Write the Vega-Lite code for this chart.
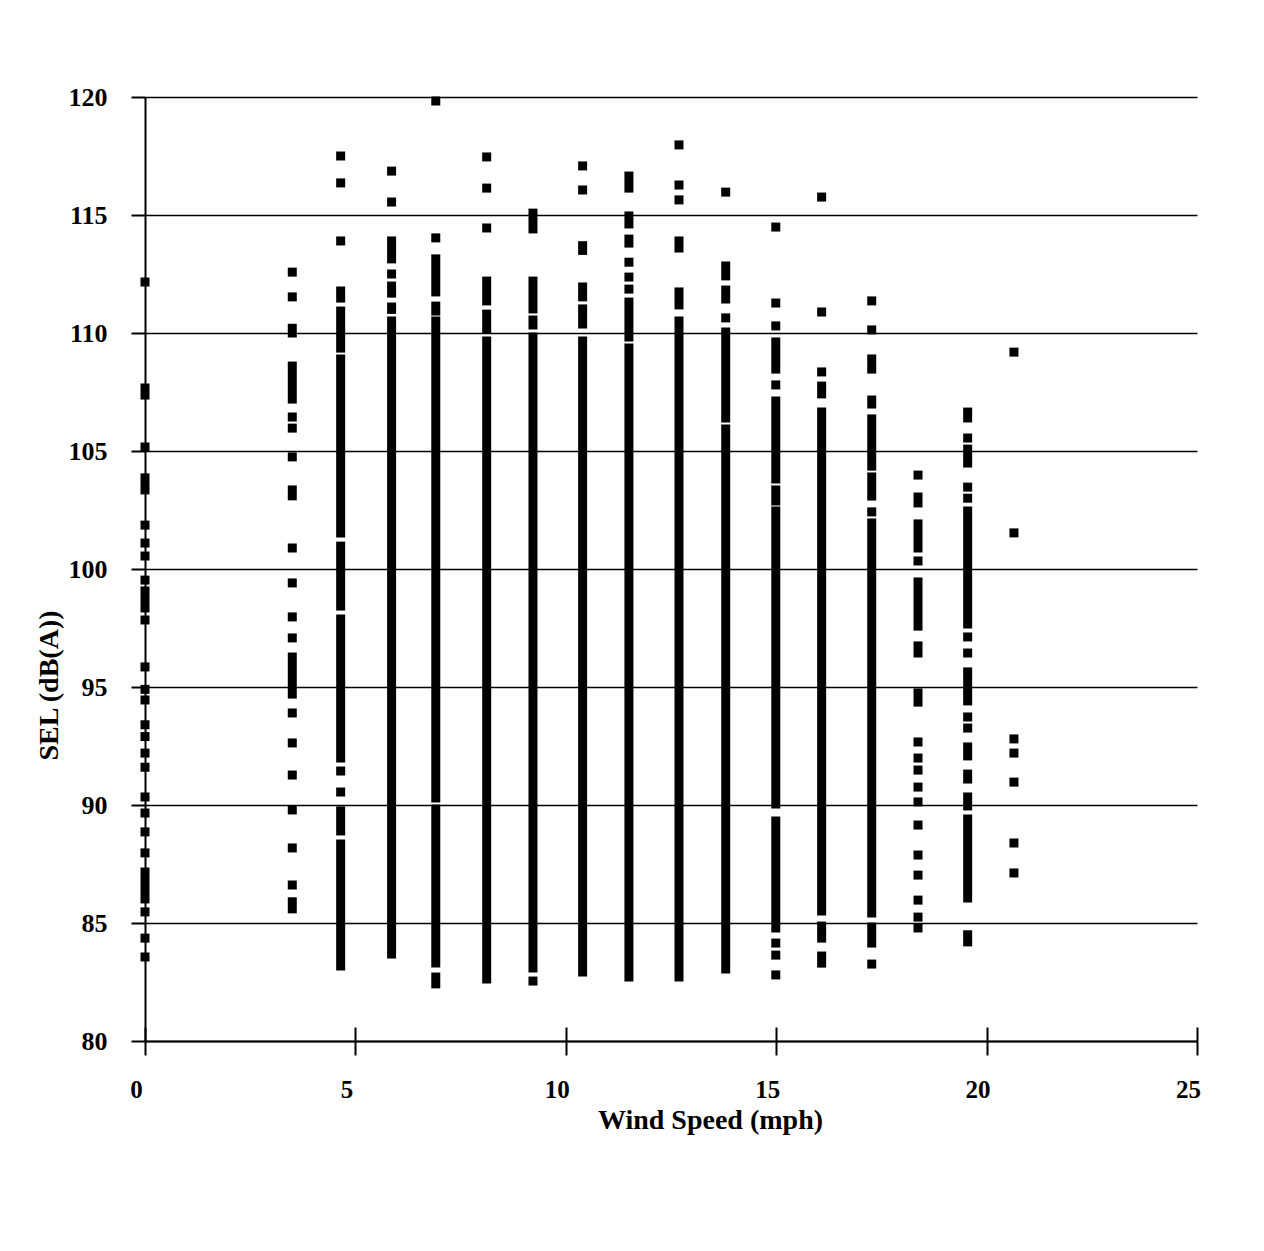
{
  "$schema": "https://vega.github.io/schema/vega-lite/v6.json",
  "width": 1052,
  "height": 944,
  "autosize": "none",
  "padding": {"left": 145, "top": 97, "right": 67, "bottom": 210},
  "background": "white",
  "config": {"view": {"stroke": null}, "font": "Liberation Serif"},
  "data": {"values": [
    {"w":0,"lo":112.16,"hi":112.16},{"w":0,"lo":107.37,"hi":107.67},{"w":0,"lo":105.17,"hi":105.17},{"w":0,"lo":103.35,"hi":103.86},{"w":0,"lo":101.86,"hi":101.86},{"w":0,"lo":101.1,"hi":101.1},{"w":0,"lo":100.55,"hi":100.55},{"w":0,"lo":99.53,"hi":99.53},{"w":0,"lo":98.35,"hi":99.07},{"w":0,"lo":97.84,"hi":97.84},{"w":0,"lo":95.85,"hi":95.85},{"w":0,"lo":94.9,"hi":94.9},{"w":0,"lo":94.45,"hi":94.45},{"w":0,"lo":93.4,"hi":93.4},{"w":0,"lo":92.9,"hi":92.9},{"w":0,"lo":92.2,"hi":92.2},{"w":0,"lo":91.6,"hi":91.6},{"w":0,"lo":90.34,"hi":90.34},{"w":0,"lo":89.66,"hi":89.66},{"w":0,"lo":88.86,"hi":88.86},{"w":0,"lo":87.97,"hi":87.97},{"w":0,"lo":86.02,"hi":87.16},{"w":0,"lo":85.47,"hi":85.47},{"w":0,"lo":84.36,"hi":84.36},{"w":0,"lo":83.56,"hi":83.56},
    {"w":3.5,"lo":112.58,"hi":112.58},{"w":3.5,"lo":111.53,"hi":111.53},{"w":3.5,"lo":110.0,"hi":110.2},{"w":3.5,"lo":107.2,"hi":108.6},{"w":3.5,"lo":106.44,"hi":106.44},{"w":3.5,"lo":105.97,"hi":105.97},{"w":3.5,"lo":104.75,"hi":104.75},{"w":3.5,"lo":103.1,"hi":103.35},{"w":3.5,"lo":100.89,"hi":100.89},{"w":3.5,"lo":99.41,"hi":99.41},{"w":3.5,"lo":97.97,"hi":97.97},{"w":3.5,"lo":97.08,"hi":97.08},{"w":3.5,"lo":94.7,"hi":96.27},{"w":3.5,"lo":93.9,"hi":93.9},{"w":3.5,"lo":92.63,"hi":92.63},{"w":3.5,"lo":91.27,"hi":91.27},{"w":3.5,"lo":89.79,"hi":89.79},{"w":3.5,"lo":88.18,"hi":88.18},{"w":3.5,"lo":86.61,"hi":86.61},{"w":3.5,"lo":85.6,"hi":85.9},
    {"w":4.65,"lo":117.5,"hi":117.5},{"w":4.65,"lo":116.36,"hi":116.36},{"w":4.65,"lo":113.9,"hi":113.9},{"w":4.65,"lo":111.48,"hi":111.78},{"w":4.65,"lo":109.36,"hi":110.93},{"w":4.65,"lo":101.53,"hi":108.9},{"w":4.65,"lo":98.43,"hi":100.97},{"w":4.65,"lo":91.99,"hi":97.88},{"w":4.65,"lo":91.44,"hi":91.44},{"w":4.65,"lo":90.55,"hi":90.55},{"w":4.65,"lo":88.9,"hi":89.75},{"w":4.65,"lo":83.18,"hi":88.35},
    {"w":5.86,"lo":116.86,"hi":116.86},{"w":5.86,"lo":115.55,"hi":115.55},{"w":5.86,"lo":113.14,"hi":113.9},{"w":5.86,"lo":112.5,"hi":112.5},{"w":5.86,"lo":111.69,"hi":111.99},{"w":5.86,"lo":111.0,"hi":111.1},{"w":5.86,"lo":83.69,"hi":110.51},
    {"w":6.91,"lo":119.83,"hi":119.83},{"w":6.91,"lo":114.03,"hi":114.03},{"w":6.91,"lo":111.74,"hi":113.14},{"w":6.91,"lo":110.93,"hi":111.14},{"w":6.91,"lo":90.3,"hi":110.51},{"w":6.91,"lo":83.31,"hi":89.83},{"w":6.91,"lo":82.42,"hi":82.71},
    {"w":8.12,"lo":117.46,"hi":117.46},{"w":8.12,"lo":116.14,"hi":116.14},{"w":8.12,"lo":114.45,"hi":114.45},{"w":8.12,"lo":111.36,"hi":112.2},{"w":8.12,"lo":110.17,"hi":110.8},{"w":8.12,"lo":82.63,"hi":109.66},
    {"w":9.22,"lo":114.41,"hi":115.08},{"w":9.22,"lo":111.02,"hi":112.2},{"w":9.22,"lo":110.34,"hi":110.55},{"w":9.22,"lo":83.09,"hi":109.83},{"w":9.22,"lo":82.54,"hi":82.54},
    {"w":10.4,"lo":117.08,"hi":117.08},{"w":10.4,"lo":116.06,"hi":116.06},{"w":10.4,"lo":113.5,"hi":113.7},{"w":10.4,"lo":111.53,"hi":111.95},{"w":10.4,"lo":110.38,"hi":111.02},{"w":10.4,"lo":82.92,"hi":109.66},
    {"w":11.5,"lo":116.14,"hi":116.65},{"w":11.5,"lo":114.62,"hi":114.96},{"w":11.5,"lo":113.81,"hi":113.98},{"w":11.5,"lo":113.0,"hi":113.0},{"w":11.5,"lo":112.37,"hi":112.37},{"w":11.5,"lo":111.86,"hi":111.86},{"w":11.5,"lo":109.83,"hi":111.31},{"w":11.5,"lo":82.71,"hi":109.36},
    {"w":12.69,"lo":117.97,"hi":117.97},{"w":12.69,"lo":116.27,"hi":116.27},{"w":12.69,"lo":115.64,"hi":115.64},{"w":12.69,"lo":113.6,"hi":113.9},{"w":12.69,"lo":111.19,"hi":111.74},{"w":12.69,"lo":82.71,"hi":110.51},
    {"w":13.8,"lo":115.97,"hi":115.97},{"w":13.8,"lo":112.42,"hi":112.84},{"w":13.8,"lo":111.44,"hi":111.82},{"w":13.8,"lo":110.64,"hi":110.64},{"w":13.8,"lo":106.4,"hi":110.04},{"w":13.8,"lo":83.05,"hi":105.93},
    {"w":14.99,"lo":114.49,"hi":114.49},{"w":14.99,"lo":111.27,"hi":111.27},{"w":14.99,"lo":110.3,"hi":110.3},{"w":14.99,"lo":108.47,"hi":109.62},{"w":14.99,"lo":107.8,"hi":107.8},{"w":14.99,"lo":103.81,"hi":107.12},{"w":14.99,"lo":102.88,"hi":103.35},{"w":14.99,"lo":90.04,"hi":102.46},{"w":14.99,"lo":84.79,"hi":89.32},{"w":14.99,"lo":84.15,"hi":84.15},{"w":14.99,"lo":83.64,"hi":83.64},{"w":14.99,"lo":82.8,"hi":82.8},
    {"w":16.08,"lo":115.76,"hi":115.76},{"w":16.08,"lo":110.89,"hi":110.89},{"w":16.08,"lo":108.35,"hi":108.35},{"w":16.08,"lo":107.42,"hi":107.75},{"w":16.08,"lo":85.51,"hi":106.65},{"w":16.08,"lo":84.36,"hi":84.87},{"w":16.08,"lo":83.3,"hi":83.6},
    {"w":17.27,"lo":111.36,"hi":111.36},{"w":17.27,"lo":110.13,"hi":110.13},{"w":17.27,"lo":108.47,"hi":108.9},{"w":17.27,"lo":106.99,"hi":107.16},{"w":17.27,"lo":104.36,"hi":106.36},{"w":17.27,"lo":103.09,"hi":103.9},{"w":17.27,"lo":102.42,"hi":102.42},{"w":17.27,"lo":85.42,"hi":101.95},{"w":17.27,"lo":84.15,"hi":84.83},{"w":17.27,"lo":83.26,"hi":83.26},
    {"w":18.37,"lo":103.98,"hi":103.98},{"w":18.37,"lo":102.8,"hi":103.05},{"w":18.37,"lo":100.89,"hi":101.91},{"w":18.37,"lo":100.34,"hi":100.34},{"w":18.37,"lo":97.58,"hi":99.45},{"w":18.37,"lo":96.44,"hi":96.74},{"w":18.37,"lo":94.36,"hi":94.75},{"w":18.37,"lo":92.67,"hi":92.67},{"w":18.37,"lo":91.99,"hi":91.99},{"w":18.37,"lo":91.48,"hi":91.48},{"w":18.37,"lo":90.76,"hi":90.76},{"w":18.37,"lo":90.13,"hi":90.13},{"w":18.37,"lo":89.15,"hi":89.15},{"w":18.37,"lo":87.88,"hi":87.88},{"w":18.37,"lo":87.03,"hi":87.03},{"w":18.37,"lo":85.97,"hi":85.97},{"w":18.37,"lo":85.25,"hi":85.25},{"w":18.37,"lo":84.79,"hi":84.79},
    {"w":19.55,"lo":106.4,"hi":106.65},{"w":19.55,"lo":105.55,"hi":105.55},{"w":19.55,"lo":104.49,"hi":105.08},{"w":19.55,"lo":103.47,"hi":103.47},{"w":19.55,"lo":103.0,"hi":103.0},{"w":19.55,"lo":97.67,"hi":102.46},{"w":19.55,"lo":97.12,"hi":97.12},{"w":19.55,"lo":96.44,"hi":96.44},{"w":19.55,"lo":94.41,"hi":95.64},{"w":19.55,"lo":93.73,"hi":93.73},{"w":19.55,"lo":93.26,"hi":93.26},{"w":19.55,"lo":92.08,"hi":92.46},{"w":19.55,"lo":91.1,"hi":91.31},{"w":19.55,"lo":89.96,"hi":90.34},{"w":19.55,"lo":86.06,"hi":89.41},{"w":19.55,"lo":84.2,"hi":84.5},
    {"w":20.65,"lo":109.19,"hi":109.19},{"w":20.65,"lo":101.53,"hi":101.53},{"w":20.65,"lo":92.8,"hi":92.8},{"w":20.65,"lo":92.2,"hi":92.2},{"w":20.65,"lo":90.97,"hi":90.97},{"w":20.65,"lo":88.39,"hi":88.39},{"w":20.65,"lo":87.12,"hi":87.12}
  ]},
  "resolve": {"axis": {"x": "independent"}},
  "layer": [
    {
      "transform": [{"filter": "datum.lo != datum.hi"}],
      "mark": {"type": "rule", "strokeWidth": 9, "strokeCap": "square", "color": "black"},
      "encoding": {
        "x": {"field": "w", "type": "quantitative",
          "scale": {"domain": [0, 25], "nice": false, "zero": false},
          "axis": {"orient": "bottom", "values": [0, 5, 10, 15, 20, 25], "grid": false,
            "domain": true, "domainColor": "black", "domainWidth": 2,
            "ticks": true, "tickSize": 14, "tickColor": "black", "tickWidth": 2,
            "labelFont": "Liberation Serif", "labelFontWeight": "bold", "labelFontSize": 25, "labelColor": "black",
            "labelPadding": 22, "labelOffset": -9, "labelFlush": false, "labelOverlap": false,
            "title": "Wind Speed (mph)", "titleFont": "Liberation Serif", "titleFontWeight": "bold", "titleFontSize": 28, "titleColor": "black",
            "titleX": 565, "titleY": 87, "titleAlign": "center", "titleBaseline": "alphabetic", "titleAnchor": null}},
        "y": {"field": "lo", "type": "quantitative",
          "scale": {"domain": [80, 120], "nice": false, "zero": false},
          "axis": {"orient": "left", "values": [80, 85, 90, 95, 100, 105, 110, 115, 120],
            "grid": true, "gridColor": "black", "gridWidth": 1.7, "gridOpacity": 1,
            "domain": true, "domainColor": "black", "domainWidth": 2,
            "ticks": true, "tickSize": 14, "tickColor": "black", "tickWidth": 2,
            "labelFont": "Liberation Serif", "labelFontWeight": "bold", "labelFontSize": 26, "labelColor": "black",
            "labelPadding": 24, "labelDy": 2, "labelFlush": false, "labelOverlap": false,
            "title": "SEL (dB(A))", "titleFont": "Liberation Serif", "titleFontWeight": "bold", "titleFontSize": 28, "titleColor": "black",
            "titleX": -88, "titleY": 588, "titleAngle": -90, "titleAlign": "center", "titleBaseline": "alphabetic", "titleAnchor": null}},
        "y2": {"field": "hi"}
      }
    },
    {
      "transform": [{"filter": "datum.lo == datum.hi"}],
      "mark": {"type": "point", "shape": "square", "filled": true, "size": 81, "color": "black", "opacity": 1},
      "encoding": {
        "x": {"field": "w", "type": "quantitative",
          "axis": {"orient": "bottom", "values": [0, 5, 10, 15, 20, 25], "grid": false, "domain": false,
            "ticks": true, "tickSize": 14, "tickColor": "black", "tickWidth": 2, "offset": -14,
            "labels": false, "title": null}},
        "y": {"field": "lo", "type": "quantitative"}
      }
    }
  ]
}
